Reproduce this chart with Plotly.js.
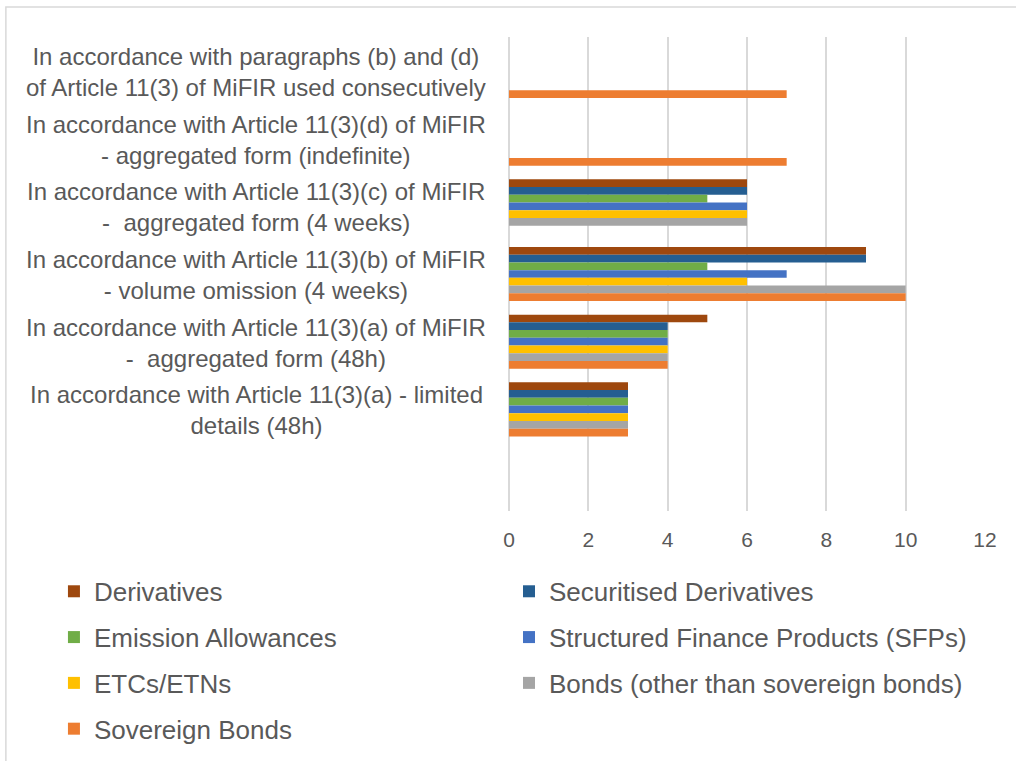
<!DOCTYPE html>
<html>
<head>
<meta charset="utf-8">
<script src="https://cdn.plot.ly/plotly-3.0.1.min.js"></script>
<style>
  html, body { margin: 0; padding: 0; background: #fff; }
  #chart { width: 1016px; height: 761px; }
</style>
</head>
<body>
<div id="chart"></div>
<script>
// Categories, top to bottom
const categories = [
    'In accordance with paragraphs (b) and (d)<br>of Article 11(3) of MiFIR used consecutively',
    'In accordance with Article 11(3)(d) of MiFIR<br>- aggregated form (indefinite)',
    'In accordance with Article 11(3)(c) of MiFIR<br>-  aggregated form (4 weeks)',
    'In accordance with Article 11(3)(b) of MiFIR<br>- volume omission (4 weeks)',
    'In accordance with Article 11(3)(a) of MiFIR<br>-  aggregated form (48h)',
    'In accordance with Article 11(3)(a) - limited<br>details (48h)'
];

// Series values (same order as categories)
const derivatives = [null, null, 6, 9, 5, 3];
const securitisedDerivatives = [null, null, 6, 9, 4, 3];
const emissionAllowances = [null, null, 5, 5, 4, 3];
const structuredFinance = [null, null, 6, 7, 4, 3];
const etcsEtns = [null, null, 6, 6, 4, 3];
const bonds = [null, null, 6, 10, 4, 3];
const sovereignBonds = [7, 7, null, 10, 4, 3];

const seriesNames = [
    'Derivatives',
    'Securitised Derivatives',
    'Emission Allowances',
    'Structured Finance Products (SFPs)',
    'ETCs/ETNs',
    'Bonds (other than sovereign bonds)',
    'Sovereign Bonds'
];
const seriesValues = [
    derivatives, securitisedDerivatives, emissionAllowances,
    structuredFinance, etcsEtns, bonds, sovereignBonds
];
const seriesColors = ['#9E480E', '#255E91', '#70AD47', '#4472C4', '#FFC000', '#A5A5A5', '#ED7D31'];
// left legend column gets Derivatives, Emission, ETCs, Sovereign
const legendFor = ['legend', 'legend2', 'legend', 'legend2', 'legend', 'legend2', 'legend'];

const FONT = 'Liberation Sans, Arial, sans-serif';
const TEXT = '#595959';

const traces = seriesNames.map((name, i) => ({
    type: 'bar',
    orientation: 'h',
    name: name,
    x: seriesValues[i],
    y: categories,
    marker: { color: seriesColors[i] },
    legend: legendFor[i],
    legendgroup: 'g' + i,
    hoverinfo: 'x+name'
}));

// Category labels as centred text blocks left of the plot
const labelAnnotations = categories.map(cat => ({
    xref: 'paper',
    yref: 'y',
    x: -0.5315,
    y: cat,
    yshift: -1,
    xanchor: 'center',
    yanchor: 'middle',
    align: 'center',
    showarrow: false,
    text: cat,
    font: { family: FONT, size: 24, color: TEXT }
}));

const legendCommon = {
    orientation: 'v',
    xanchor: 'left',
    yanchor: 'top',
    y: -0.12,
    font: { family: FONT, size: 26, color: TEXT },
    tracegroupgap: 9,
    bgcolor: 'rgba(0,0,0,0)'
};

const layout = {
    width: 1016,
    height: 761,
    margin: { t: 37, b: 250, l: 509, r: 31, autoexpand: false },
    paper_bgcolor: '#ffffff',
    plot_bgcolor: '#ffffff',
    barmode: 'group',
    bargap: 0.2,
    bargroupgap: 0,
    font: { family: FONT, color: TEXT },
    xaxis: {
        range: [0, 12],
        dtick: 2,
        showgrid: true,
        gridcolor: '#d9d9d9',
        gridwidth: 2,
        zeroline: true,
        zerolinecolor: '#d9d9d9',
        zerolinewidth: 2,
        showline: false,
        ticks: '',
        ticklabelstandoff: 14,
        tickfont: { family: FONT, size: 21, color: TEXT },
        fixedrange: true
    },
    yaxis: {
        type: 'category',
        categoryorder: 'array',
        categoryarray: categories,
        range: [6.5, -0.5],
        showgrid: false,
        zeroline: false,
        showline: false,
        showticklabels: false,
        ticks: '',
        fixedrange: true
    },
    showlegend: true,
    legend: Object.assign({}, legendCommon, { x: -0.956 }),
    legend2: Object.assign({}, legendCommon, { x: 0 }),
    annotations: labelAnnotations,
    shapes: [{
        type: 'rect',
        xref: 'paper',
        yref: 'paper',
        x0: -1.057,
        x1: 1.2,
        y0: -0.7,
        y1: 1.0633,
        line: { color: '#d9d9d9', width: 1.5 },
        fillcolor: 'rgba(0,0,0,0)',
        layer: 'below'
    }]
};

Plotly.newPlot('chart', traces, layout, { displayModeBar: false, staticPlot: true });
</script>
</body>
</html>
